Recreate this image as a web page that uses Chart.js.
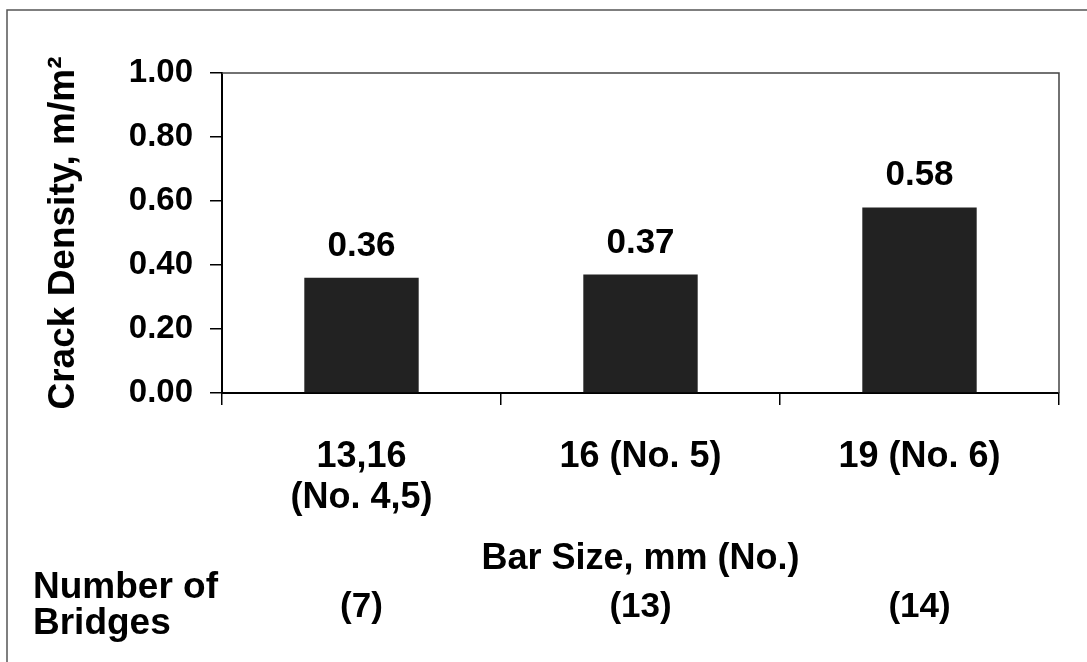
<!DOCTYPE html>
<html>
<head>
<meta charset="utf-8">
<script src="https://cdn.jsdelivr.net/npm/chart.js@4.4.1/dist/chart.umd.min.js"></script>
<style>
  html, body { margin: 0; padding: 0; background: #fff; }
  canvas { display: block; }
</style>
</head>
<body>
<canvas id="myChart" width="1087" height="662"></canvas>
<script>
// data
var barSizes = [["13,16", "(No. 4,5)"], "16 (No. 5)", "19 (No. 6)"];
var crackDensity = [0.36, 0.37, 0.58];
var bridgeCounts = ["(7)", "(13)", "(14)"];
var bridgeHeading = ["Number of", "Bridges"];
var yTicks = [0, 0.2, 0.4, 0.6, 0.8, 1.0];

var fam = '"Liberation Sans", Arial, sans-serif';

// outer frame + plot box top/right edges
var framePlugin = {
  id: "frame",
  beforeDraw: function (chart) {
    var c = chart.ctx;
    c.save();
    c.fillStyle = "#fff";
    c.fillRect(0, 0, chart.width, chart.height);
    c.strokeStyle = "#555";
    c.lineWidth = 1.5;
    c.beginPath();
    c.moveTo(7, chart.height);
    c.lineTo(7, 10);
    c.lineTo(chart.width, 10);
    c.stroke();
    c.restore();
  },
  afterDraw: function (chart) {
    var a = chart.chartArea;
    var c = chart.ctx;
    c.save();
    c.strokeStyle = "#444";
    c.lineWidth = 1.5;
    c.beginPath();
    c.moveTo(a.left, a.top);
    c.lineTo(a.right, a.top);
    c.lineTo(a.right, a.bottom);
    c.stroke();
    c.restore();
  }
};

// value labels above bars
var valuePlugin = {
  id: "values",
  afterDatasetsDraw: function (chart) {
    var c = chart.ctx;
    var meta = chart.getDatasetMeta(0);
    c.save();
    c.font = "bold 35px " + fam;
    c.fillStyle = "#000";
    c.textAlign = "center";
    c.textBaseline = "alphabetic";
    meta.data.forEach(function (bar, i) {
      c.fillText(crackDensity[i].toFixed(2), bar.x, bar.y - 22);
    });
    c.restore();
  }
};

// "Number of Bridges" row under the axis title
var bridgesPlugin = {
  id: "bridges",
  afterDraw: function (chart) {
    var c = chart.ctx;
    var x = chart.scales.x;
    c.save();
    c.fillStyle = "#000";
    c.textBaseline = "alphabetic";
    c.textAlign = "left";
    c.font = "bold 37px " + fam;
    c.fillText(bridgeHeading[0], 33, 598);
    c.fillText(bridgeHeading[1], 33, 634);
    c.font = "bold 35px " + fam;
    c.textAlign = "center";
    bridgeCounts.forEach(function (t, i) {
      c.fillText(t, x.getPixelForValue(i), 617);
    });
    c.restore();
  }
};

var ctx = document.getElementById("myChart").getContext("2d");
var chart = new Chart(ctx, {
  type: "bar",
  data: {
    labels: barSizes,
    datasets: [
      {
        label: "Crack Density",
        data: crackDensity,
        backgroundColor: "#222",
        borderWidth: 0,
        categoryPercentage: 1.0,
        barPercentage: 0.41
      }
    ]
  },
  options: {
    responsive: false,
    animation: false,
    devicePixelRatio: 1,
    layout: { padding: { left: 0, top: 73, right: 28, bottom: 0 } },
    plugins: {
      legend: { display: false },
      tooltip: { enabled: false }
    },
    scales: {
      x: {
        afterFit: function (s) { s.height = 269; },
        grid: {
          offset: true,
          drawOnChartArea: false,
          drawTicks: true,
          tickLength: 12,
          color: "#000",
          lineWidth: 1.5
        },
        border: { color: "#000", width: 2 },
        ticks: {
          color: "#000",
          padding: 31,
          maxRotation: 0,
          font: { family: fam, size: 36, weight: "bold", lineHeight: 1.15 }
        },
        title: {
          display: true,
          text: "Bar Size, mm (No.)",
          color: "#000",
          padding: { top: 0, bottom: 81 },
          font: { family: fam, size: 36, weight: "bold", lineHeight: 1.2 }
        }
      },
      y: {
        min: 0,
        max: 1,
        afterFit: function (s) { s.width = 222; },
        afterBuildTicks: function (s) {
          s.ticks = yTicks.map(function (v) { return { value: v }; });
        },
        grid: {
          drawOnChartArea: false,
          drawTicks: true,
          tickLength: 12,
          color: "#000",
          lineWidth: 1.5
        },
        border: { color: "#000", width: 2 },
        ticks: {
          color: "#000",
          padding: 17,
          font: { family: fam, size: 33, weight: "bold" },
          callback: function (v) { return Number(v).toFixed(2); }
        },
        title: {
          display: true,
          text: "Crack Density, m/m\u00B2",
          color: "#000",
          padding: { top: 42, bottom: 0 },
          font: { family: fam, size: 37, weight: "bold", lineHeight: 1.2 }
        }
      }
    }
  },
  plugins: [framePlugin, valuePlugin, bridgesPlugin]
});
</script>
</body>
</html>
